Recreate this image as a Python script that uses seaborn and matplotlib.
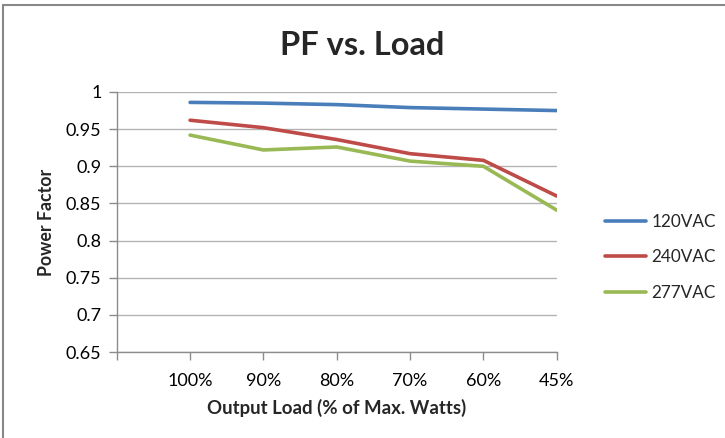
import numpy as np
import pandas as pd
import matplotlib.pyplot as plt
import matplotlib.lines as mlines
import seaborn as sns

# Datos
loads = ['100%', '90%', '80%', '70%', '60%', '45%']
pf_120 = [0.986, 0.985, 0.983, 0.979, 0.977, 0.975]
pf_240 = [0.962, 0.952, 0.936, 0.917, 0.908, 0.860]
pf_277 = [0.942, 0.922, 0.926, 0.907, 0.900, 0.841]
series = ['120VAC', '240VAC', '277VAC']
colores = ['#4A7EBB', '#BE4B48', '#98B954']

df = pd.DataFrame({
    'pos': list(range(len(loads))) * 3,
    'pf': pf_120 + pf_240 + pf_277,
    'serie': [s for s in series for _ in loads],
})

sns.set_style('white')
plt.rcParams['font.family'] = ['Lato', 'DejaVu Sans']

fig = plt.figure(figsize=(7.25, 4.38), dpi=100)
ax = fig.add_axes([0.161, 0.196, 0.607, 0.594])

sns.lineplot(data=df, x='pos', y='pf', hue='serie', palette=colores,
             linewidth=2.6, ax=ax, legend=True)

# eje x con una categoria vacia al inicio
ax.set_xlim(-1, len(loads) - 1)
ax.set_xticks(range(-1, len(loads)))
ax.set_xticklabels([''] + loads)
ax.set_ylim(0.65, 1.0)
yt = np.arange(0.65, 1.001, 0.05)
ax.set_yticks(yt)
ax.set_yticklabels(['%g' % round(v, 2) for v in yt])
ax.yaxis.grid(True, color='#B3B3B3', linewidth=1)

for s in ['top', 'right']:
    ax.spines[s].set_visible(False)
for s in ['left', 'bottom']:
    ax.spines[s].set_color('#8C8C8C')
    ax.spines[s].set_linewidth(1)
ax.tick_params(axis='both', direction='out', length=6, width=1, color='#8C8C8C',
               labelsize=13, labelcolor='black', left=True, bottom=True)
ax.tick_params(axis='x', pad=9)
ax.tick_params(axis='y', pad=5)

ax.set_xlabel('Output Load (% of Max. Watts)', fontsize=13.4, fontweight='bold', labelpad=7)
ax.set_ylabel('Power Factor', fontsize=12.8, fontweight='bold', labelpad=8)
fig.suptitle('PF vs. Load', fontsize=23.5, fontweight='bold', y=0.897, va='center')

leg = ax.legend(loc='center left', bbox_to_anchor=(1.075, 0.365), frameon=False,
                fontsize=12.3, handlelength=2.4, handletextpad=0.3, labelspacing=1.15)

# borde del area del grafico
fig.add_artist(mlines.Line2D([0.004, 1], [0.988, 0.988], color='#888888', lw=1.5))
fig.add_artist(mlines.Line2D([0.004, 0.004], [0, 0.988], color='#888888', lw=1.5))

fig.savefig('out.png', dpi=100)
